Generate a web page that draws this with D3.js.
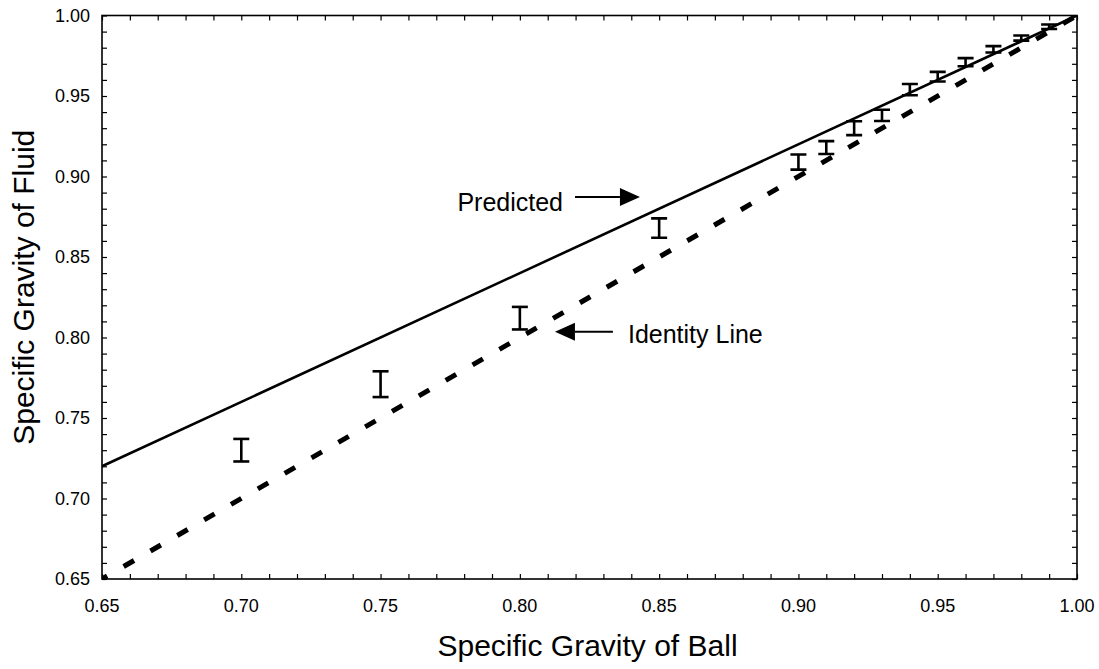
<!DOCTYPE html>
<html>
<head>
<meta charset="utf-8">
<script src="https://cdn.jsdelivr.net/npm/d3@7"></script>
<style>
  body { margin: 0; background: #fff; }
  svg { display: block; font-family: "Liberation Sans", Arial, Helvetica, sans-serif; }
</style>
</head>
<body>
<svg id="chart" width="1099" height="669"></svg>
<script>
// ball specific gravity (x) and measured fluid specific gravity (mean, +/- error)
const ballSG = [0.70, 0.75, 0.80, 0.85, 0.90, 0.91, 0.92, 0.93, 0.94, 0.95, 0.96, 0.97, 0.98, 0.99];
const fluidSG = [0.730, 0.771, 0.812, 0.868, 0.909, 0.918, 0.930, 0.938, 0.954, 0.962, 0.971, 0.979, 0.986, 0.993];
const fluidErr = [0.007, 0.008, 0.007, 0.006, 0.0047, 0.004, 0.0043, 0.0035, 0.0035, 0.003, 0.0025, 0.002, 0.0016, 0.0014];

// predicted line and identity line end points
const predictedX = [0.65, 1.00];
const predictedY = [0.72, 1.00];
const identityX = [0.65, 1.00];
const identityY = [0.65, 1.00];

const tickValues = [0.65, 0.70, 0.75, 0.80, 0.85, 0.90, 0.95, 1.00];

const svg = d3.select('#chart');

const x = d3.scaleLinear().domain([0.65, 1.00]).range([102, 1077]);
const y = d3.scaleLinear().domain([0.65, 1.00]).range([579, 15.5]);

const fmt = d3.format('.2f');
const minorTicks = d3.range(65, 101).map(d => d / 100);

svg.append('defs').append('clipPath').attr('id', 'plotClip')
    .append('rect')
        .attr('x', x(0.65)).attr('y', y(1.00))
        .attr('width', x(1.00) - x(0.65))
        .attr('height', y(0.65) - y(1.00));

// Axes: bottom / left with labels, top / right ticks only, all ticks inward
const tickLen = 5;

svg.append('g')
    .attr('transform', `translate(0,${y(0.65)})`)
    .call(d3.axisBottom(x).tickValues(minorTicks).tickSizeInner(-tickLen).tickSizeOuter(0).tickFormat(''))
    .call(g => g.select('.domain').remove());

svg.append('g')
    .attr('transform', `translate(0,${y(1.00)})`)
    .call(d3.axisTop(x).tickValues(minorTicks).tickSizeInner(-tickLen).tickSizeOuter(0).tickFormat(''))
    .call(g => g.select('.domain').remove());

svg.append('g')
    .attr('transform', `translate(${x(0.65)},0)`)
    .call(d3.axisLeft(y).tickValues(minorTicks).tickSizeInner(-tickLen).tickSizeOuter(0).tickFormat(''))
    .call(g => g.select('.domain').remove());

svg.append('g')
    .attr('transform', `translate(${x(1.00)},0)`)
    .call(d3.axisRight(y).tickValues(minorTicks).tickSizeInner(-tickLen).tickSizeOuter(0).tickFormat(''))
    .call(g => g.select('.domain').remove());

svg.selectAll('.tick line').style('stroke', '#000').style('stroke-width', 1.2);

// frame
svg.append('rect')
    .attr('x', x(0.65)).attr('y', y(1.00))
    .attr('width', x(1.00) - x(0.65))
    .attr('height', y(0.65) - y(1.00))
    .style('fill', 'none')
    .style('stroke', '#000')
    .style('stroke-width', 1.6);

// tick labels
svg.selectAll('.xLabel')
    .data(tickValues)
    .join('text')
        .classed('xLabel', true)
        .attr('x', d => x(d))
        .attr('y', 612)
        .style('text-anchor', 'middle')
        .style('font-size', '18px')
        .text(d => fmt(d));

svg.selectAll('.yLabel')
    .data(tickValues)
    .join('text')
        .classed('yLabel', true)
        .attr('x', x(0.65) - 12)
        .attr('y', d => y(d))
        .attr('dy', '0.35em')
        .style('text-anchor', 'end')
        .style('font-size', '18px')
        .text(d => fmt(d));

// axis titles
svg.append('text')
    .attr('x', (x(0.65) + x(1.00)) / 2 - 2)
    .attr('y', 656)
    .style('text-anchor', 'middle')
    .style('font-size', '30px')
    .text('Specific Gravity of Ball');

svg.append('text')
    .attr('transform', `translate(34,${(y(0.65) + y(1.00)) / 2 - 10}) rotate(-90)`)
    .style('text-anchor', 'middle')
    .style('font-size', '30px')
    .text('Specific Gravity of Fluid');

const plot = svg.append('g').attr('clip-path', 'url(#plotClip)');

// predicted (solid)
const line = d3.line().x(d => x(d[0])).y(d => y(d[1]));

plot.append('path')
    .datum(d3.zip(predictedX, predictedY))
    .attr('d', line)
    .style('fill', 'none')
    .style('stroke', '#000')
    .style('stroke-width', 2.6);

// identity (thick dashes)
plot.append('path')
    .datum(d3.zip(identityX, identityY))
    .attr('d', line)
    .style('fill', 'none')
    .style('stroke', '#000')
    .style('stroke-width', 5)
    .style('stroke-dasharray', '12,19')
    .style('stroke-dashoffset', 6);

// error bars
const capHalf = 8;
const bars = plot.selectAll('.errBar')
    .data(d3.range(ballSG.length))
    .join('g')
        .classed('errBar', true);

bars.append('line')
    .attr('x1', i => x(ballSG[i])).attr('x2', i => x(ballSG[i]))
    .attr('y1', i => y(fluidSG[i] - fluidErr[i]))
    .attr('y2', i => y(fluidSG[i] + fluidErr[i]));

bars.append('line')
    .attr('x1', i => x(ballSG[i]) - capHalf).attr('x2', i => x(ballSG[i]) + capHalf)
    .attr('y1', i => y(fluidSG[i] + fluidErr[i]))
    .attr('y2', i => y(fluidSG[i] + fluidErr[i]));

bars.append('line')
    .attr('x1', i => x(ballSG[i]) - capHalf).attr('x2', i => x(ballSG[i]) + capHalf)
    .attr('y1', i => y(fluidSG[i] - fluidErr[i]))
    .attr('y2', i => y(fluidSG[i] - fluidErr[i]));

bars.selectAll('line')
    .style('stroke', '#000')
    .style('stroke-width', 2.6);

// annotations (positions in data units)
function arrow(fromX, toX, atY) {
    const x0 = x(fromX), x1 = x(toX), yy = y(atY);
    const dir = Math.sign(x1 - x0);
    const headLen = 20, headHalf = 9;
    svg.append('line')
        .attr('x1', x0).attr('y1', yy)
        .attr('x2', x1 - dir * headLen).attr('y2', yy)
        .style('stroke', '#000')
        .style('stroke-width', 2);
    svg.append('path')
        .attr('d', `M${x1},${yy} L${x1 - dir * headLen},${yy - headHalf} L${x1 - dir * headLen},${yy + headHalf} Z`)
        .style('fill', '#000');
}

svg.append('text')
    .attr('x', x(0.8155)).attr('y', y(0.8786))
    .style('text-anchor', 'end')
    .style('font-size', '25px')
    .text('Predicted');
arrow(0.8198, 0.8431, 0.8873);

svg.append('text')
    .attr('x', x(0.8388)).attr('y', y(0.7966))
    .style('text-anchor', 'start')
    .style('font-size', '25px')
    .text('Identity Line');
arrow(0.8334, 0.8126, 0.8036);
</script>
</body>
</html>
